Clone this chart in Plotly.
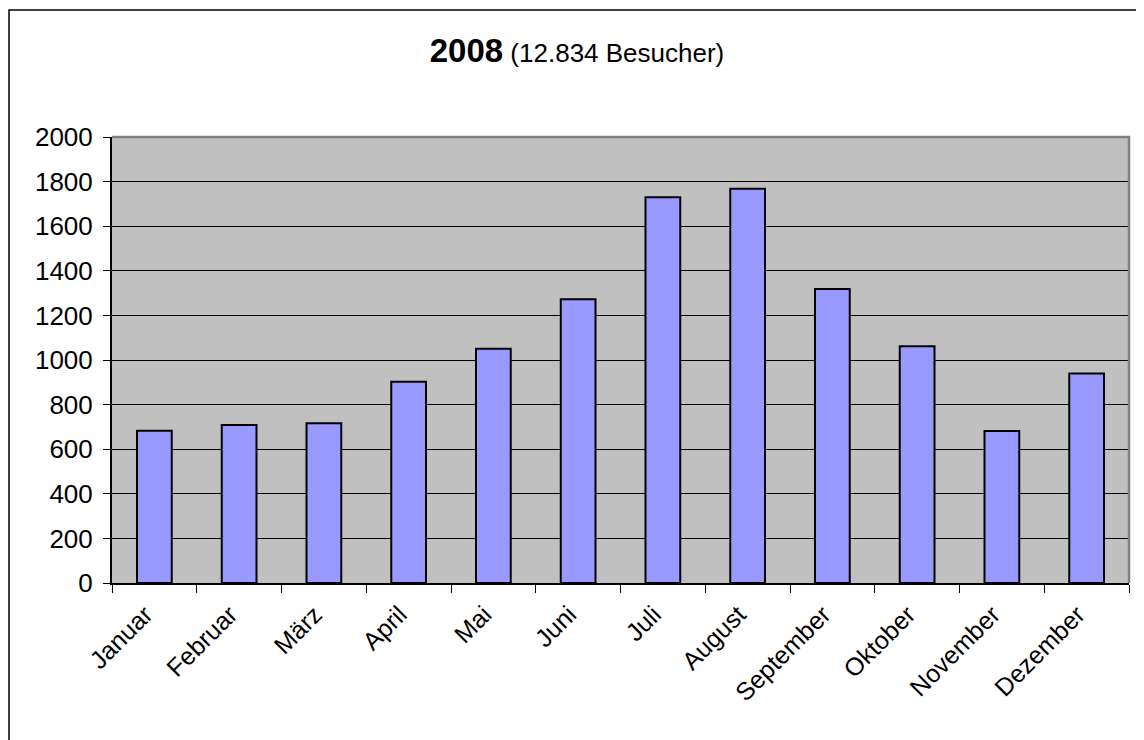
import plotly.graph_objects as go

months = ["Januar", "Februar", "März", "April", "Mai", "Juni", "Juli",
          "August", "September", "Oktober", "November", "Dezember"]
visitors = [683, 708, 716, 902, 1050, 1272, 1730, 1768, 1318, 1062, 682, 940]
y_ticks = [0, 200, 400, 600, 800, 1000, 1200, 1400, 1600, 1800, 2000]

# page body has an 8px margin, so the figure is a bit smaller than the window
OFF = 8
W, H = 1144 - OFF, 740 - OFF
ML, MR, MT, MB = 112 - OFF, 15, 137 - OFF, 157
pw, ph = W - ML - MR, H - MT - MB

fig = go.Figure()
fig.add_bar(
    x=months,
    y=visitors,
    marker=dict(color="#9999FF", line=dict(color="black", width=2)),
)

fig.update_layout(
    width=W,
    height=H,
    margin=dict(l=ML, r=MR, t=MT, b=MB, autoexpand=False),
    paper_bgcolor="white",
    plot_bgcolor="#C0C0C0",
    font=dict(family="Liberation Sans, Arial, sans-serif", color="black", size=24),
    bargap=0.59,
    showlegend=False,
    title=dict(
        text='<span style="font-size:33px"><b>2008</b></span> (12.834 Besucher)',
        font=dict(size=26),
        x=(577 - OFF) / W, xref="container", xanchor="center",
        y=1 - (53 - OFF) / H, yref="container", yanchor="middle",
    ),
)

fig.update_xaxes(
    showgrid=False,
    showline=True, linecolor="black", linewidth=2,
    ticks="outside", tickson="boundaries", ticklen=8, tickcolor="black", tickwidth=1,
    tickangle=-45,
    tickfont=dict(size=25),
    ticklabelshift=-9,
    ticklabelstandoff=5,
    automargin=False,
)
fig.update_yaxes(
    range=[0, 2000],
    tickvals=y_ticks,
    showgrid=True, gridcolor="black", gridwidth=1,
    zeroline=False,
    showline=True, linecolor="black", linewidth=2,
    ticks="outside", ticklen=7, tickcolor="black", tickwidth=1,
    tickfont=dict(size=26),
    ticklabelstandoff=5,
    automargin=False,
)

# grey plot-area frame (top and right)
fig.add_shape(type="path", xref="paper", yref="paper",
              path="M0,1 L1,1 L1,0", line=dict(color="#808080", width=2.5),
              layer="above")

# outer chart border
fig.add_shape(type="rect", xref="paper", yref="paper",
              x0=(8 - OFF - ML + 1) / pw, x1=(W + 10 - ML) / pw,
              y0=-(MB + 10) / ph, y1=1 + (MT - (10 - OFF)) / ph,
              line=dict(color="black", width=1.5), fillcolor="rgba(0,0,0,0)",
              layer="below")

fig.write_html("out.html")
